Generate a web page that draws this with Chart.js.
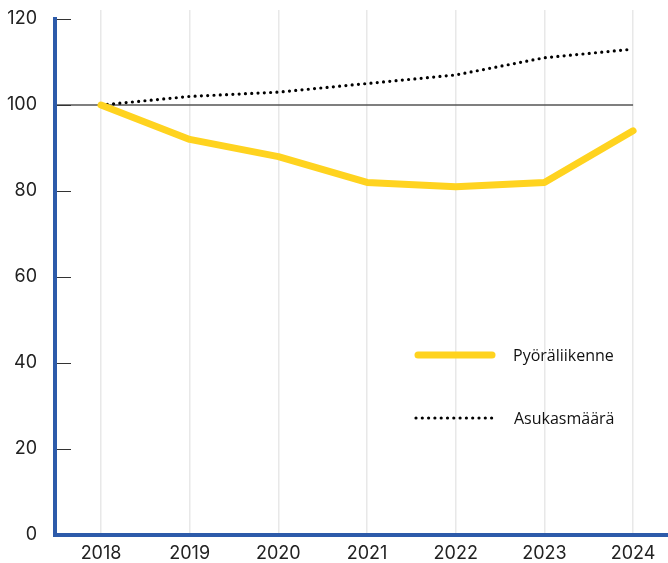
<!DOCTYPE html>
<html>
<head>
<meta charset="utf-8">
<script src="https://cdn.jsdelivr.net/npm/chart.js@4"></script>
<style>
  html, body { margin: 0; padding: 0; background: #fff; overflow: hidden; }
  #wrap { position: relative; width: 668px; height: 563px; }
  .leg { position: absolute; font-family: "Open Sans", "Noto Sans", sans-serif; font-size: 16px; color: #111; line-height: 20px; }
</style>
</head>
<body>
<div id="wrap">
  <canvas id="c"></canvas>
  <svg style="position:absolute;left:0;top:0" width="668" height="563">
    <line x1="418" y1="355" x2="492" y2="355" stroke="#FFD31F" stroke-width="7" stroke-linecap="round"/>
    <line x1="416" y1="418" x2="493" y2="418" stroke="#000" stroke-width="3.2" stroke-dasharray="0 6.3" stroke-linecap="round"/>
  </svg>
  <div class="leg" style="left:513px;top:345px">Pyöräliikenne</div>
  <div class="leg" style="left:514px;top:408px">Asukasmäärä</div>
</div>
<script>
const years = [2018, 2019, 2020, 2021, 2022, 2023, 2024];
const pyoraliikenne = [100, 92, 88, 82, 81, 82, 94];
const asukasmaara = [100, 102, 103, 105, 107, 111, 113];
const yTicks = [0, 20, 40, 60, 80, 100, 120];
const baseline = 100;

const AXIS_BLUE = '#2D5BAA';

const decorPlugin = {
  id: 'decor',
  beforeDatasetsDraw(chart) {
    const { ctx, chartArea, scales } = chart;
    const x = scales.x, y = scales.y;
    ctx.save();
    ctx.strokeStyle = '#555';
    ctx.lineWidth = 1.5;
    ctx.beginPath();
    ctx.moveTo(chartArea.left, y.getPixelForValue(baseline));
    ctx.lineTo(x.getPixelForValue(years[years.length - 1]), y.getPixelForValue(baseline));
    ctx.stroke();
    ctx.restore();
  },
  afterDatasetsDraw(chart) {
    const { ctx, chartArea, scales } = chart;
    const y = scales.y;
    ctx.save();
    ctx.strokeStyle = '#333';
    ctx.lineWidth = 1;
    yTicks.forEach(v => {
      if (v === 0) return;
      const py = Math.round(y.getPixelForValue(v)) + 0.5;
      ctx.beginPath();
      ctx.moveTo(chartArea.left, py);
      ctx.lineTo(chartArea.left + 16, py);
      ctx.stroke();
    });
    ctx.strokeStyle = AXIS_BLUE;
    ctx.lineWidth = 4;
    const bottom = y.getPixelForValue(0);
    ctx.beginPath();
    ctx.moveTo(chartArea.left, y.getPixelForValue(yTicks[yTicks.length - 1]) - 2);
    ctx.lineTo(chartArea.left, bottom);
    ctx.lineTo(chart.width, bottom);
    ctx.stroke();
    ctx.restore();
  }
};

new Chart(document.getElementById('c'), {
  type: 'line',
  data: {
    datasets: [
      {
        label: 'Pyöräliikenne',
        data: years.map((yr, i) => ({ x: yr, y: pyoraliikenne[i] })),
        borderColor: '#FFD31F',
        borderWidth: 7,
        borderCapStyle: 'round',
        borderJoinStyle: 'round',
        pointRadius: 0,
        tension: 0
      },
      {
        label: 'Asukasmäärä',
        data: years.map((yr, i) => ({ x: yr, y: asukasmaara[i] })),
        borderColor: '#000',
        borderWidth: 3.2,
        borderDash: [0, 6.3],
        borderCapStyle: 'round',
        pointRadius: 0,
        tension: 0
      }
    ]
  },
  options: {
    responsive: true,
    maintainAspectRatio: false,
    animation: false,
    layout: { padding: { left: 0, right: 0, top: 10, bottom: 0 } },
    plugins: { legend: { display: false }, tooltip: { enabled: false } },
    scales: {
      x: {
        type: 'linear',
        min: 2017.481,
        max: 2024.394,
        afterBuildTicks(scale) { scale.ticks = years.map(v => ({ value: v })); },
        afterFit(scale) { scale.height = 28; scale.paddingLeft = 0; scale.paddingRight = 0; },
        grid: { color: '#e8e8e8', lineWidth: 1.5, drawTicks: false },
        border: { display: false },
        ticks: {
          padding: 8,
          color: '#222',
          font: { family: 'Inter, Lato, sans-serif', size: 18 },
          callback: v => String(v)
        }
      },
      y: {
        min: 0,
        max: 122.1,
        afterBuildTicks(scale) { scale.ticks = yTicks.map(v => ({ value: v })); },
        afterFit(scale) { scale.width = 55; scale.paddingTop = 0; scale.paddingBottom = 0; },
        grid: { display: false },
        border: { display: false },
        ticks: {
          padding: 10,
          color: '#222',
          font: { family: 'Inter, Lato, sans-serif', size: 18 },
          callback: v => String(v)
        }
      }
    }
  },
  plugins: [decorPlugin]
});
</script>
</body>
</html>
